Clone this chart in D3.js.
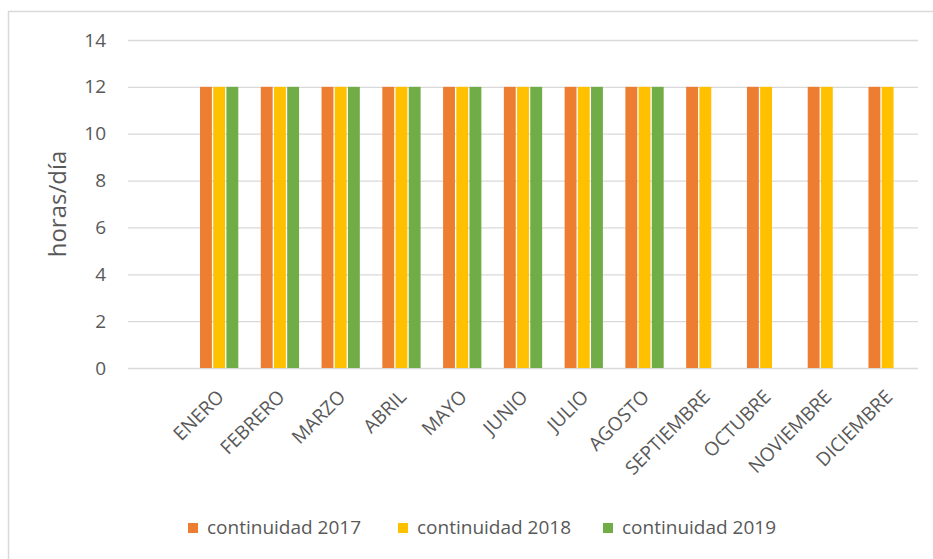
<!DOCTYPE html>
<html><head><meta charset="utf-8">
<script src="https://cdn.jsdelivr.net/npm/d3@7"></script>
<style>body{margin:0;background:#fff;}svg{display:block;}</style>
</head><body>
<svg id="c" width="933" height="559"></svg>
<script>
const categories = ["", "ENERO","FEBRERO","MARZO","ABRIL","MAYO","JUNIO","JULIO","AGOSTO","SEPTIEMBRE","OCTUBRE","NOVIEMBRE","DICIEMBRE"];
const seriesNames = ["continuidad 2017","continuidad 2018","continuidad 2019"];
const values2017 = [null,12,12,12,12,12,12,12,12,12,12,12,12];
const values2018 = [null,12,12,12,12,12,12,12,12,12,12,12,12];
const values2019 = [null,12,12,12,12,12,12,12,12,null,null,null,null];
const yTicks = [0,2,4,6,8,10,12,14];
const colors = ["#ED7D31","#FFC000","#70AD47"];

const seriesValues = [values2017, values2018, values2019];
const font = "Open Sans, sans-serif";
const svg = d3.select("#c");
svg.append("rect").attr("x",8.5).attr("y",11.5).attr("width",940).attr("height",560)
  .attr("fill","#fff").attr("stroke","#D9D9D9").attr("stroke-width",1.5);

const pLeft = 128, pRight = 918, pTop = 40, pBottom = 368;
const x0 = d3.scaleBand().domain(categories.map((d,i)=>i)).range([pLeft,pRight]).paddingInner(0).paddingOuter(0);
const y = d3.scaleLinear().domain([0,14]).range([pBottom,pTop]);
const groupW = x0.bandwidth()*0.63;
const x1 = d3.scaleBand().domain([0,1,2]).range([0,groupW]).paddingInner(0.1);

// grid
const yAxis = d3.axisLeft(y).tickValues(yTicks).tickSize(-(pRight-pLeft)).tickPadding(22);
const ga = svg.append("g").attr("transform",`translate(${pLeft},0)`).call(yAxis);
ga.select(".domain").remove();
ga.selectAll(".tick line").attr("stroke","#D9D9D9").attr("stroke-width",1.3);
ga.selectAll(".tick text").attr("fill","#595959").style("font-family",font).style("font-size","19px");

// bars
categories.forEach((c,i)=>{
  seriesValues.forEach((vals,s)=>{
    const v = vals[i];
    if (v==null) return;
    const cx = x0(i)+x0.bandwidth()/2 - groupW/2;
    svg.append("rect").attr("x",cx+x1(s)).attr("width",x1.bandwidth())
      .attr("y",y(v)).attr("height",y(0)-y(v)).attr("fill",colors[s]);
  });
});

// x labels
const xa = d3.axisBottom(x0).tickSize(0).tickFormat(i=>categories[i]);
const gx = svg.append("g").attr("transform",`translate(0,${pBottom})`).call(xa);
gx.select(".domain").remove();
gx.selectAll(".tick text").attr("fill","#595959").style("font-family",font).style("font-size","19px")
  .attr("text-anchor","end").attr("dy",0).attr("y",0)
  .attr("transform","translate(6,30) rotate(-45)");

// y title
svg.append("text").attr("transform","translate(66,204) rotate(-90)").attr("text-anchor","middle")
  .attr("fill","#595959").style("font-family",font).style("font-size","24px").text("horas/día");

// legend
const legX = [188,398,603];
seriesNames.forEach((n,s)=>{
  svg.append("rect").attr("x",legX[s]).attr("y",523).attr("width",10).attr("height",10).attr("fill",colors[s]);
  svg.append("text").attr("x",legX[s]+19).attr("y",534).attr("fill","#595959")
    .style("font-family",font).style("font-size","19px").text(n);
});
</script>
</body></html>
